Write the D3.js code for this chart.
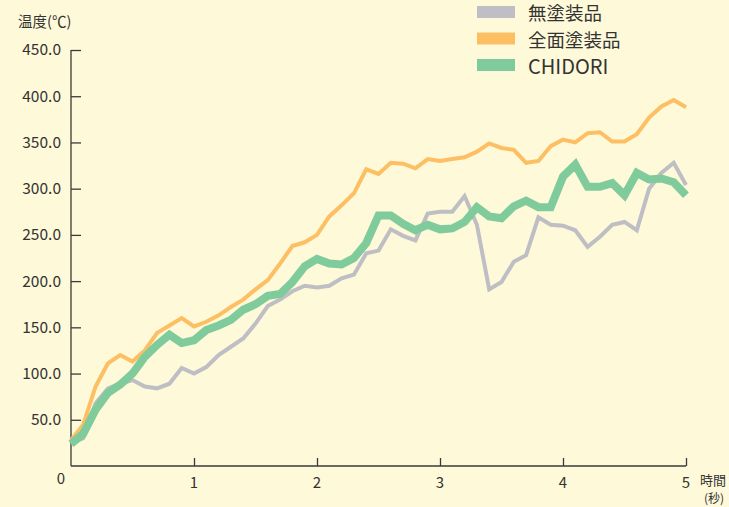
<!DOCTYPE html>
<html>
<head>
<meta charset="utf-8">
<script src="https://cdn.jsdelivr.net/npm/d3@7"></script>
<style>
  html, body { margin: 0; padding: 0; background: #FEF9D8; }
  svg { display: block; }
  text { font-family: "Noto Sans CJK JP", "Noto Sans", sans-serif; fill: #333; }
</style>
</head>
<body>
<div id="chart"></div>
<script>
// ---- data ----
const times = d3.range(0, 51).map(i => +(i / 10).toFixed(1));
const seriesNames = ["無塗装品", "全面塗装品", "CHIDORI"];
const unpainted = [25, 30, 68, 84, 89, 93, 86, 84, 89, 106, 100, 107, 120, 129, 138, 154, 173, 180, 189, 195, 193, 195, 203, 207, 230, 233, 256, 249, 244, 273, 275, 275, 292, 261, 191, 199, 221, 228, 269, 261, 260, 255, 237, 248, 261, 264, 255, 300, 317, 328, 304];
const fullyPainted = [28, 45, 86, 111, 120, 113, 125, 144, 152, 160, 151, 156, 163, 172, 180, 191, 201, 219, 238, 242, 250, 270, 282, 295, 321, 316, 328, 327, 322, 332, 330, 332, 334, 340, 349, 344, 342, 328, 330, 346, 353, 350, 360, 361, 351, 351, 359, 377, 389, 396, 388];
const chidori = [24, 35, 61, 79, 88, 100, 118, 131, 142, 133, 136, 147, 152, 158, 169, 175, 184, 186, 199, 216, 224, 219, 218, 225, 241, 271, 271, 262, 255, 261, 256, 257, 264, 280, 270, 268, 281, 287, 280, 280, 313, 326, 302, 302, 306, 293, 317, 310, 311, 307, 293];
const yTicks = [50, 100, 150, 200, 250, 300, 350, 400, 450];
const xTicks = [1, 2, 3, 4, 5];
const colors = ["#BEBEC4", "#FDBF63", "#7FCB9C"];
const widths = [4, 4, 8];

// ---- layout ----
const W = 729, H = 507;
const x0 = 71, x1 = 686, yBottom = 466, yTop = 50;

const svg = d3.select("#chart").append("svg").attr("width", W).attr("height", H);
svg.append("rect").attr("width", W).attr("height", H).attr("fill", "#FEF9D8");

const x = d3.scaleLinear().domain([0, 5]).range([x0, x1]);
const y = d3.scaleLinear().domain([0, 450]).range([yBottom, yTop]);

// y axis
const yAxis = d3.axisRight(y).tickValues(yTicks).tickSize(10).tickFormat(d => d3.format(".1f")(d));
const gy = svg.append("g").attr("transform", `translate(${x0},0)`).call(yAxis);
gy.select(".domain").remove();
gy.selectAll(".tick line").attr("stroke", "#3a3a3a").attr("stroke-width", 1.3);
gy.selectAll(".tick text").attr("x", -10).attr("text-anchor", "end")
  .attr("font-size", 15.5).attr("fill", "#333").attr("font-family", '"Noto Sans CJK JP", sans-serif');
svg.append("line").attr("x1", x0).attr("x2", x0).attr("y1", y(450)).attr("y2", yBottom)
  .attr("stroke", "#3a3a3a").attr("stroke-width", 1.3);

// x axis
const xAxis = d3.axisTop(x).tickValues(xTicks).tickSize(8).tickFormat("");
const gx = svg.append("g").attr("transform", `translate(0,${yBottom})`).call(xAxis);
gx.select(".domain").remove();
gx.selectAll(".tick line").attr("stroke", "#3a3a3a").attr("stroke-width", 1.3);
svg.append("line").attr("x1", x0).attr("x2", x1).attr("y1", yBottom).attr("y2", yBottom)
  .attr("stroke", "#3a3a3a").attr("stroke-width", 1.3);
svg.append("g").selectAll("text").data(xTicks).join("text")
  .attr("x", d => x(d)).attr("y", yBottom + 22).attr("text-anchor", "middle")
  .attr("font-size", 15).text(d => d);
svg.append("text").attr("x", x(0) - 10).attr("y", yBottom + 18).attr("text-anchor", "middle")
  .attr("font-size", 15).text("0");

// axis titles
svg.append("text").attr("x", 18).attr("y", 27).attr("font-size", 14.5).text("温度(℃)");
svg.append("text").attr("x", 700).attr("y", yBottom + 19).attr("font-size", 13).text("時間");
svg.append("text").attr("x", 704).attr("y", yBottom + 37).attr("font-size", 12).text("(秒)");

// lines
const data = [unpainted, fullyPainted, chidori];
const line = d3.line().x((d, i) => x(times[i])).y(d => y(d));
svg.append("g").selectAll("path").data(data).join("path")
  .attr("d", line)
  .attr("fill", "none")
  .attr("stroke", (d, i) => colors[i])
  .attr("stroke-width", (d, i) => widths[i])
  .attr("stroke-linejoin", "miter");

// legend
const lg = svg.append("g").attr("transform", "translate(477,0)");
const items = lg.selectAll("g").data(seriesNames).join("g")
  .attr("transform", (d, i) => `translate(0,${6 + i * 26.5})`);
items.append("rect").attr("width", 38).attr("height", 12).attr("fill", (d, i) => colors[i]);
items.append("text").attr("x", 51).attr("y", 6).attr("dominant-baseline", "central")
  .attr("font-size", (d, i) => i === 2 ? 20 : 18.5)
  .attr("font-family", (d, i) => i === 2 ? '"Noto Sans", sans-serif' : '"Noto Sans CJK JP", sans-serif')
  .text(d => d);
</script>
</body>
</html>
